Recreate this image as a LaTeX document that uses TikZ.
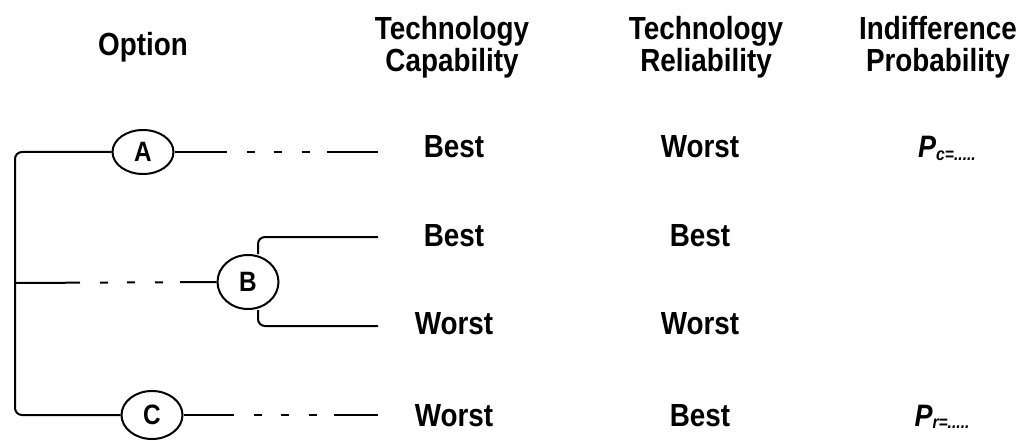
\documentclass[tikz,border=0pt]{standalone}
\usepackage{fontspec}
\setmainfont{Liberation Sans}[FakeStretch=0.87]
\usetikzlibrary{shapes.geometric}

\tikzset{
  opt/.style={draw, ellipse, inner sep=0pt,
    minimum width=61pt, minimum height=44pt, font=\fontsize{28}{30}\selectfont\bfseries},
  lbl/.style={anchor=base, inner sep=0pt, font=\fontsize{32}{34}\selectfont\bfseries},
  head/.style={anchor=base, inner sep=0pt, align=center, font=\fontsize{32}{32}\selectfont\bfseries},
  prob/.style={anchor=base, inner sep=0pt, font=\fontsize{31}{32}\selectfont\bfseries\itshape},
  brokenline/.style={dash pattern=on #1 off 20pt on 8pt off 19pt on 8pt off 20pt on 8pt off 17pt on 120pt}
}

\begin{document}
\begin{tikzpicture}[x=1pt, y=-1pt, line width=2pt]
   \useasboundingbox (0,0) rectangle (1034,441);
   % column heads
   \node[lbl] (hopt) at (143,56) {Option};
   \node[head] (hcap) at (452,72) {Technology\\Capability};
   \node[head] (hrel) at (706,72) {Technology\\Reliability};
   \node[head] (hind) at (938,72) {Indifference\\Probability};
   % options
   \node[opt] (A) at (143,152) {A};
   \node[opt, minimum height=54pt] (B) at (248,282) {B};
   \node[opt, minimum height=48pt] (C) at (152,415) {C};
   \coordinate (root) at (15,283);
   \coordinate (aend) at (378,152);
   \coordinate (bup) at (378,237);
   \coordinate (blo) at (378,326);
   \coordinate (cend) at (378,415);
   % tree
   \draw[rounded corners=7pt] (A.west) -- (15,152) -- (root) -- (15,415) -- (C.west);
   \draw[brokenline=52pt] (A.east) -- (aend);
   \draw[brokenline=65pt] (root) -- (B.west);
   \draw[brokenline=50pt] (C.east) -- (cend);
   \draw[rounded corners=7pt] (B.north -| 258,0) |- (bup);
   \draw[rounded corners=7pt] (B.south -| 258,0) |- (blo);
   % outcomes
   \node[lbl] (a1) at (454,158) {Best};
   \node[lbl] (a2) at (700,158) {Worst};
   \node[lbl] (bu1) at (454,246) {Best};
   \node[lbl] (bu2) at (700,246) {Best};
   \node[lbl] (bl1) at (454,334) {Worst};
   \node[lbl] (bl2) at (700,334) {Worst};
   \node[lbl] (c1) at (454,426) {Worst};
   \node[lbl] (c2) at (700,426) {Best};
   \node[prob] (pc) at (947,158) {P\raisebox{-2pt}{\fontsize{18}{18}\selectfont c=.....}};
   \node[prob] (pr) at (942,426) {P\raisebox{-2pt}{\fontsize{18}{18}\selectfont r=.....}};
 \end{tikzpicture}
\end{document}
